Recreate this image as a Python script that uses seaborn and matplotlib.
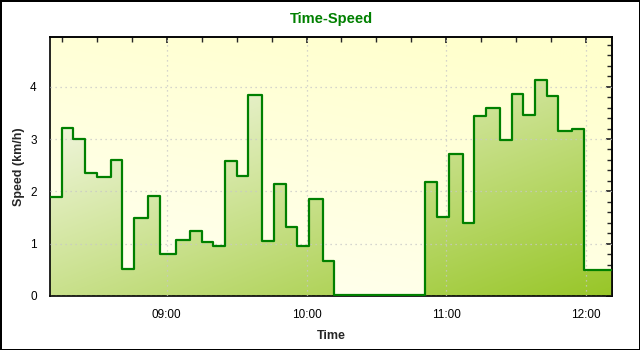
import numpy as np
import pandas as pd
import matplotlib
matplotlib.use("Agg")
import matplotlib.pyplot as plt
import matplotlib.dates as mdates
from matplotlib.ticker import MultipleLocator
import seaborn as sns

# ---- data ----
step_times = ["08:10", "08:15", "08:20", "08:25", "08:30", "08:36", "08:41", "08:46",
              "08:52", "08:57", "09:04", "09:10", "09:15", "09:20", "09:25", "09:30",
              "09:35", "09:41", "09:46", "09:51", "09:56", "10:01", "10:07", "10:12",
              "10:51", "10:56", "11:01", "11:07", "11:12", "11:17", "11:23", "11:28",
              "11:33", "11:38", "11:43", "11:48", "11:54", "11:59"]
end_time = "12:11"
speeds = [1.90, 3.21, 3.00, 2.36, 2.27, 2.60, 0.52, 1.49,
          1.92, 0.80, 1.07, 1.25, 1.03, 0.96, 2.58, 2.30,
          3.85, 1.05, 2.15, 1.32, 0.96, 1.86, 0.66, 0.02,
          2.18, 1.51, 2.72, 1.39, 3.44, 3.59, 2.99, 3.87,
          3.46, 4.12, 3.82, 3.15, 3.19, 0.49]
y_max = 4.95
title = "Time-Speed"
x_label = "Time"
y_label = "Speed (km/h)"

# ---- frame ----
day = "2020-01-01 "
t = pd.to_datetime([day + s for s in step_times + [end_time]])
df = pd.DataFrame({"Time": t, "Speed": speeds + [speeds[-1]]})

sns.set_theme(style="white")
plt.rcParams["font.family"] = ["Liberation Sans", "DejaVu Sans"]

fig = plt.figure(figsize=(6.4, 3.5), dpi=100, facecolor="white",
                 edgecolor="black", linewidth=2)
ax = fig.add_axes([50 / 640, 1 - 296 / 350, (612 - 50) / 640, (296 - 37) / 350])

xnum = mdates.date2num(df["Time"])
x0, x1 = xnum[0], xnum[-1]

# background gradient (pale yellow -> white)
ny, nx = 100, 200
gx, gy = np.meshgrid(np.linspace(0, 1, nx), np.linspace(0, 1, ny))
tb = np.clip(0.35 * gx + 0.75 * gy, 0, 1)
c0 = np.array([255, 255, 242]) / 255
c1 = np.array([255, 255, 205]) / 255
bg = c0[None, None, :] * (1 - tb[..., None]) + c1[None, None, :] * tb[..., None]
ax.imshow(bg, extent=[x0, x1, 0, y_max], origin="lower", aspect="auto",
          zorder=0, interpolation="bilinear")

# fill gradient clipped to the step area
poly = ax.fill_between(df["Time"], df["Speed"], 0, step="post",
                       facecolor="none", edgecolor="none")
tf = np.clip(0.5 * gx + 0.5 * (1 - gy), 0, 1)
f0 = np.array([250, 251, 240]) / 255
f1 = np.array([152, 198, 40]) / 255
fg = f0[None, None, :] * (1 - tf[..., None]) + f1[None, None, :] * tf[..., None]
ymax_data = max(speeds)
im = ax.imshow(fg, extent=[x0, x1, 0, ymax_data], origin="lower", aspect="auto",
               zorder=1, interpolation="bilinear")
im.set_clip_path(poly.get_paths()[0], transform=ax.transData)

sns.lineplot(data=df, x="Time", y="Speed", ax=ax, drawstyle="steps-post",
             color="#008000", linewidth=1.6, zorder=3)

ax.set_xlim(df["Time"].iloc[0], df["Time"].iloc[-1])
ax.set_ylim(0, y_max)

ax.xaxis.set_major_locator(mdates.HourLocator())
ax.xaxis.set_minor_locator(mdates.MinuteLocator(byminute=[0, 15, 30, 45]))
ax.xaxis.set_major_formatter(mdates.DateFormatter("%H:%M"))
ax.yaxis.set_major_locator(MultipleLocator(1))
ax.yaxis.set_minor_locator(MultipleLocator(0.2))

ax.grid(True, which="major", color="#c8c8c8", linestyle=(0, (1, 3)), linewidth=0.9, zorder=2)
ax.set_axisbelow(False)

ax.tick_params(axis="both", which="major", direction="inout", length=7, width=1,
               labelsize=8.5, colors="black")
ax.tick_params(axis="x", which="major", pad=6)
ax.tick_params(axis="y", which="major", pad=6)
ax.tick_params(axis="both", which="minor", direction="out", length=3.5, width=0.8, colors="black")

# inward ticks on top/right
sec_top = ax.secondary_xaxis("top")
sec_top.xaxis.set_major_locator(mdates.HourLocator())
sec_top.xaxis.set_minor_locator(mdates.MinuteLocator(byminute=[0, 15, 30, 45]))
sec_top.tick_params(which="major", direction="in", length=4, labeltop=False)
sec_top.tick_params(which="minor", direction="in", length=3.5)
sec_top.set_xticklabels([])
sec_right = ax.secondary_yaxis("right")
sec_right.yaxis.set_major_locator(MultipleLocator(1))
sec_right.yaxis.set_minor_locator(MultipleLocator(0.2))
sec_right.tick_params(which="major", direction="in", length=4, labelright=False)
sec_right.tick_params(which="minor", direction="in", length=3.5)
sec_right.set_yticklabels([])
ax.tick_params(top=False, right=False, which="both")

for sp in ax.spines.values():
    sp.set_color("black")
    sp.set_linewidth(1.2)

ax.set_xlabel(x_label, fontsize=9, fontweight="bold", labelpad=6)
ax.set_ylabel(y_label, fontsize=9, fontweight="bold", labelpad=4)
ax.set_title(title, fontsize=10.5, fontweight="bold", color="#008000", pad=10)

fig.savefig("out.png", dpi=100, facecolor=fig.get_facecolor(), edgecolor=fig.get_edgecolor())
